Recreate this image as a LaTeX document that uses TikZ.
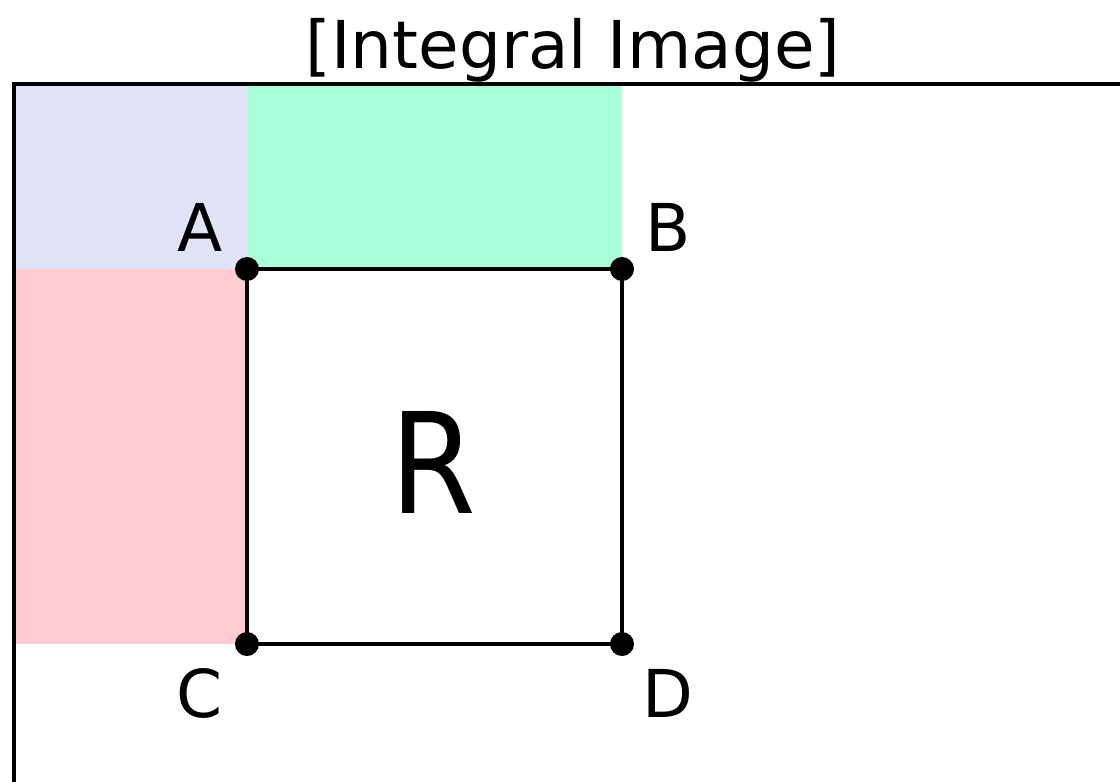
\documentclass[tikz,border=0pt]{standalone}
\usepackage{fontspec}
\setmainfont{DejaVu Sans}
\definecolor{sumblue}{RGB}{227,227,248}
\definecolor{sumgreen}{RGB}{168,255,216}
\definecolor{sumred}{RGB}{255,204,209}
\begin{document}
\begin{tikzpicture}[
  x=0.5pt, y=-0.5pt,
  every node/.style={font=\fontsize{33}{40}\selectfont},
  corner/.style={circle, fill=black, inner sep=0pt, minimum size=12pt},
  lbl/.style={anchor=base, inner sep=0pt},
  side/.style={line width=2pt}
]
\useasboundingbox (0,0) rectangle (1120,782);
\coordinate (origin) at (14,84);
\coordinate (top end) at (1120,84);
\coordinate (left end) at (14,782);
\coordinate (a) at (247,269);
\coordinate (b) at (622,269);
\coordinate (c) at (247,644);
\coordinate (d) at (622,644);
% partial sums
\fill[sumblue] (origin) rectangle (a);
\fill[sumgreen] (origin -| a) rectangle (b);
\fill[sumred] (origin |- a) rectangle (c);
% image frame
\draw[side] (top end) -- (origin) -- (left end);
% region R
\draw[side] (a) -- (b) -- (d) -- (c) -- cycle;
\node[corner] (A) at (a) {};
\node[corner] (B) at (b) {};
\node[corner] (C) at (c) {};
\node[corner] (D) at (d) {};
\node[lbl] (labelA) at (200,251) {A};
\node[lbl] (labelB) at (668,251) {B};
\node[lbl] (labelC) at (200,717) {C};
\node[lbl] (labelD) at (668,717) {D};
\node[font=\fontsize{70}{80}\selectfont, xscale=0.88] (region) at (433,462) {R};
\node[lbl] (title) at (573,68) {[Integral Image]};
\end{tikzpicture}
\end{document}
